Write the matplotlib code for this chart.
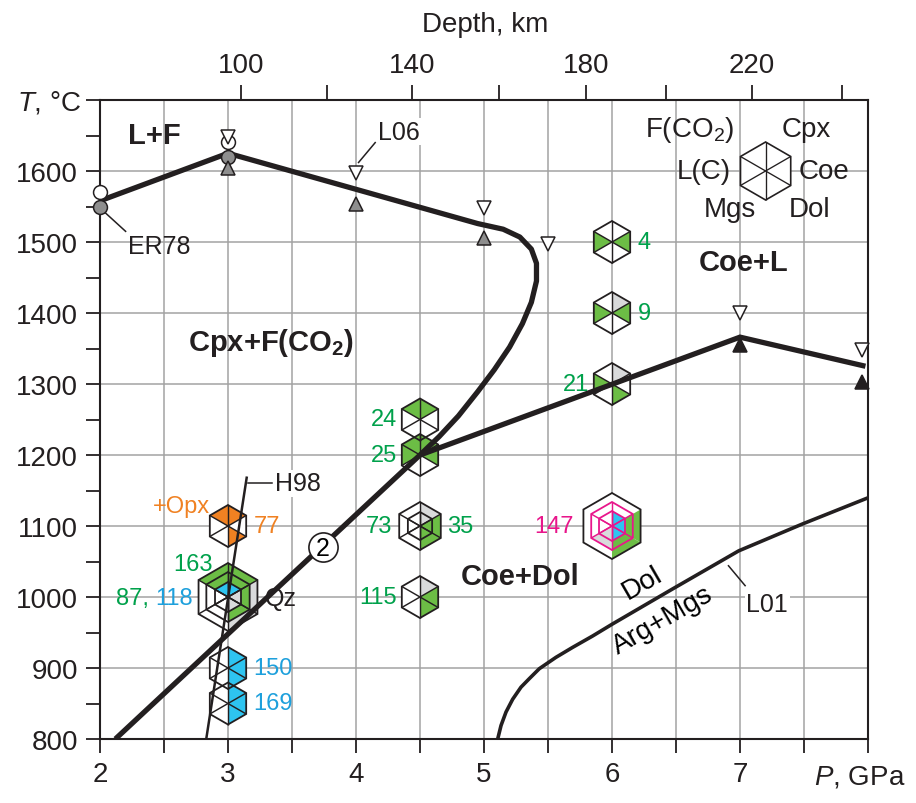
import numpy as np
import matplotlib
matplotlib.use('Agg')
import matplotlib.pyplot as plt
from matplotlib.patches import Polygon

plt.rcParams['font.family'] = ['Liberation Sans', 'DejaVu Sans']
plt.rcParams['mathtext.fontset'] = 'custom'
plt.rcParams['mathtext.rm'] = 'Liberation Sans'
plt.rcParams['mathtext.it'] = 'Liberation Sans:italic'
plt.rcParams['mathtext.bf'] = 'Liberation Sans:bold'

INK = '#231f20'
GRID = '#a3a3a3'
GREEN = '#6cbd45'
GREEN_TXT = '#00a14b'
BLUE = '#2ec4f0'
BLUE_TXT = '#1ea0dc'
ORANGE = '#f08122'
GRAY_FILL = '#d9dadb'
MARK_GRAY = '#8e8e8e'
MAGENTA = '#e8168b'
FILL = {'g': GREEN, 'b': BLUE, 'o': ORANGE, 's': GRAY_FILL}

# solidus / carbonate-out boundary (thick line)
solidus_P = [2.0, 3.0, 4.95, 5.15, 5.28, 5.37, 5.41, 5.41, 5.37, 5.3, 5.2,
             5.08, 4.95, 4.8, 4.65, 4.5, 2.12]
solidus_T = [1558, 1625, 1526, 1518, 1507, 1490, 1470, 1445, 1415, 1385, 1352,
             1320, 1289, 1255, 1226, 1200, 800]
# Coe+Dol / Coe+L boundary
melt_P = [4.5, 7.0, 7.98]
melt_T = [1200, 1366, 1325]
# H98 line
h98_P = [2.83, 3.146]
h98_T = [800, 1168]
# L01: Dol = Arg + Mgs
l01_P = [5.107, 5.133, 5.172, 5.224, 5.289, 5.354, 5.432, 5.562, 5.692,
         5.848, 6.004, 6.47, 6.99, 7.49, 7.99]
l01_T = [800, 819, 838, 856, 873, 885, 899, 915, 929, 945, 962, 1011, 1065,
         1103, 1139]

# bracketing experiments
open_tri_P = [3.0, 4.0, 5.0, 5.5, 7.0, 7.95]
open_tri_T = [1648, 1597, 1548, 1497, 1400, 1348]
gray_tri_P = [3.0, 4.0, 5.0]
gray_tri_T = [1604, 1553, 1505]
black_tri_P = [7.0, 7.95]
black_tri_T = [1355, 1303]
open_circ_P = [2.0, 3.0]
open_circ_T = [1570, 1641]
gray_circ_P = [2.0, 3.0]
gray_circ_T = [1550, 1620]

# runs: phase codes in order F(CO2), Cpx, L(C), Coe, Mgs, Dol
run_names = ['4', '9', '21', '24', '25', '115', '150', '169', '77']
run_P = [6.0, 6.0, 6.0, 4.5, 4.5, 4.5, 3.0, 3.0, 3.0]
run_T = [1500, 1400, 1300, 1250, 1200, 1000, 900, 850, 1100]
run_phases = ['..gg..', '.sgg..', '.sg..g', 'gg....', 'gggg..', '.s.g.g',
              '.b.b.b', '.b.b.b', 'oo...o']
run_side = ['right', 'right', 'left', 'left', 'left', 'left', 'right', 'right', 'right']
run_color = [GREEN_TXT] * 6 + [BLUE_TXT, BLUE_TXT, ORANGE]

SECTORS = ['F', 'Cpx', 'L', 'Coe', 'Mgs', 'Dol']
START = {'F': 90, 'L': 150, 'Mgs': 210, 'Dol': 270, 'Coe': 330, 'Cpx': 30}

fig = plt.figure(figsize=(9.16, 8.04), dpi=100)
ax = fig.add_axes([100 / 916, 64 / 804, 768 / 916, 639 / 804])
ax.set_xlim(2, 8)
ax.set_ylim(800, 1700)


def hexagon(P, T, r, code, edge=INK, lw=1.3, spokes=True, z=4, white=True):
    """Hexagon in pixel radius r; each sector filled by phase code."""
    cx, cy = ax.transData.transform((P, T))
    inv = ax.transData.inverted()

    def pt(a):
        a = np.radians(a)
        return inv.transform((cx + r * np.cos(a), cy + r * np.sin(a)))

    outline = [pt(a) for a in range(90, 450, 60)]
    if white:
        ax.add_patch(Polygon(outline, closed=True, facecolor='white',
                             edgecolor='none', zorder=z))
    for name, c in zip(SECTORS, code):
        if c == '.':
            continue
        a0 = START[name]
        ax.add_patch(Polygon([(P, T), pt(a0), pt(a0 + 60)], closed=True,
                             facecolor=FILL[c], edgecolor='none', zorder=z))
    if spokes:
        for a in (90, 150, 210):
            p0, p1 = pt(a), pt(a + 180)
            ax.plot([p0[0], p1[0]], [p0[1], p1[1]], color=edge, lw=lw * 0.8,
                    zorder=z + 0.1, solid_capstyle='butt')
    ax.add_patch(Polygon(outline, closed=True, fill=False, edgecolor=edge,
                         lw=lw, zorder=z + 0.2, joinstyle='miter'))


# grid
for p in np.arange(2.5, 8.0, 0.5):
    ax.axvline(p, color=GRID, lw=1.1, zorder=0)
for t in range(900, 1700, 100):
    ax.axhline(t, color=GRID, lw=1.1, zorder=0)

# boundaries
ax.plot(solidus_P, solidus_T, color=INK, lw=3.8, zorder=6,
        solid_joinstyle='round', solid_capstyle='butt')
ax.plot(melt_P, melt_T, color=INK, lw=3.8, zorder=6, solid_joinstyle='miter',
        solid_capstyle='butt')
ax.plot(h98_P, h98_T, color=INK, lw=1.8, zorder=6)
ax.plot(l01_P, l01_T, color=INK, lw=2.6, zorder=3, solid_joinstyle='round')

# hexagons
for name, P, T, code, side, col in zip(run_names, run_P, run_T, run_phases,
                                       run_side, run_color):
    hexagon(P, T, 21, code)
    dx = 0.2 if side == 'right' else -0.18
    ax.text(P + dx, T, name, color=col, fontsize=17,
            ha='left' if side == 'right' else 'right', va='center', zorder=7)

# nested runs 73 / 35
hexagon(4.5, 1100, 24, '.s.g.g')
hexagon(4.5, 1100, 14, '.s.g.g', white=False)
ax.text(4.28, 1100, '73', color=GREEN_TXT, fontsize=17, ha='right', va='center')
ax.text(4.71, 1100, '35', color=GREEN_TXT, fontsize=17, ha='left', va='center')

# nested runs 163 / 87 / 118
hexagon(3.0, 1000, 34, 'gg.s.s')
hexagon(3.0, 1000, 25, 'gg.g.g', white=False)
hexagon(3.0, 1000, 15, 'bb.s.s', white=False)
ax.text(2.88, 1046, '163', color=GREEN_TXT, fontsize=17, ha='right', va='center')
t118 = ax.text(2.725, 999, '118', color=BLUE_TXT, fontsize=17, ha='right',
               va='center')
ax.annotate('87, ', xy=(0, 0.5), xycoords=t118, color=GREEN_TXT, fontsize=17,
            ha='right', va='center')
ax.text(3.29, 999, 'Qz', color=INK, fontsize=18, ha='left', va='center', zorder=7)
ax.text(2.86, 1128, '+Opx', color=ORANGE, fontsize=17, ha='right', va='center')

# run 147
hexagon(6.0, 1100, 33, '...g.g', spokes=False)
hexagon(6.0, 1100, 24, '...gsg', edge=MAGENTA, white=False)
hexagon(6.0, 1100, 15, '.b.b.b', edge=MAGENTA, white=False)
ax.text(5.70, 1100, '147', color=MAGENTA, fontsize=17, ha='right', va='center')

# legend hexagon
hexagon(7.2, 1600, 29, '......', lw=1.2)
for s, P, T, ha in [('F(CO$_2$)', 6.61, 1659, 'center'), ('Cpx', 7.52, 1659, 'center'),
                    ('L(C)', 6.93, 1600, 'right'), ('Coe', 7.46, 1600, 'left'),
                    ('Mgs', 6.92, 1546, 'center'), ('Dol', 7.54, 1546, 'center')]:
    ax.text(P, T, s, fontsize=20, color=INK, ha=ha, va='center', zorder=7)

# markers
mk = dict(ls='none', ms=10, mec=INK, mew=1.1, zorder=8, clip_on=False)
ax.plot(open_circ_P, open_circ_T, 'o', mfc='white', **mk)
ax.plot(gray_circ_P, gray_circ_T, 'o', mfc=MARK_GRAY, **mk)
ax.plot(open_tri_P, open_tri_T, 'v', mfc='white', **mk)
ax.plot(gray_tri_P, gray_tri_T, '^', mfc=MARK_GRAY, **mk)
ax.plot(black_tri_P, black_tri_T, '^', mfc=INK, **mk)

# references
ax.plot([2.03, 2.2], [1543, 1515], color=INK, lw=1.1, zorder=7)
ax.text(2.22, 1494, 'ER78', fontsize=18, color=INK, ha='left', va='center')
ax.plot([4.02, 4.15], [1612, 1640], color=INK, lw=1.1, zorder=7)
ax.text(4.17, 1655, 'L06', fontsize=18, color=INK, ha='left', va='center',
        bbox=dict(fc='white', ec='none', pad=1))
ax.plot([3.16, 3.34], [1160, 1160], color=INK, lw=1.1, zorder=7)
ax.text(3.37, 1160, 'H98', fontsize=18, color=INK, ha='left', va='center',
        bbox=dict(fc='white', ec='none', pad=1))
ax.plot([6.91, 7.04], [1044, 1016], color=INK, lw=1.1, zorder=7)
ax.text(7.05, 990, 'L01', fontsize=18, color=INK, ha='left', va='center',
        bbox=dict(fc='white', ec='none', pad=1))

# curve 2 marker
ax.plot([3.74], [1070], 'o', ms=21, mfc='white', mec=INK, mew=1.2, zorder=8)
ax.text(3.74, 1069, '2', fontsize=18, ha='center', va='center', zorder=9)

# field labels
bold = dict(fontsize=21, fontweight='bold', color=INK, zorder=7)
ax.text(2.22, 1651, 'L+F', ha='left', va='center', **bold)
ax.text(2.69, 1359, 'Cpx+F(CO$_\\mathbf{2}$)', ha='left', va='center', **bold)
ax.text(7.03, 1472, 'Coe+L', ha='center', va='center', **bold)
ax.text(5.28, 1030, 'Coe+Dol', ha='center', va='center', **bold)
ax.text(6.24, 1020, 'Dol', fontsize=20, rotation=30, ha='center', va='center',
        rotation_mode='anchor')
ax.text(6.40, 968, 'Arg+Mgs', fontsize=20, rotation=30, ha='center', va='center',
        rotation_mode='anchor')

# axes styling
for s in ax.spines.values():
    s.set_linewidth(1.5)
    s.set_color(INK)
ax.set_xticks(np.arange(2, 8.01, 0.5))
ax.set_xticklabels(['2', '', '3', '', '4', '', '5', '', '6', '', '7', '', ''])
ax.set_yticks(np.arange(800, 1701, 50))
ax.set_yticklabels([str(t) if t % 100 == 0 and t < 1700 else '' for t in range(800, 1701, 50)])
ax.tick_params(direction='out', length=10, width=1.3, color=INK,
               labelsize=20, labelcolor=INK, pad=6)

# depth scale on top
depth_km = [100, 120, 140, 160, 180, 200, 220, 240]
depth_P = [3.10, 3.77, 4.44, 5.12, 5.80, 6.42, 7.09, 7.80]
top = ax.twiny()
top.set_xlim(ax.get_xlim())
top.set_xticks(depth_P)
top.set_xticklabels([str(d) if d % 40 == 20 else '' for d in depth_km])
top.tick_params(direction='out', length=11, width=1.3, color=INK,
                labelsize=20, labelcolor=INK, pad=5)
for s in top.spines.values():
    s.set_visible(False)

fig.text(17 / 916, 1 - 103 / 804, '$\\it{T}$, °C', fontsize=20, ha='left',
         va='center', color=INK)
fig.text(905 / 916, 1 - 778 / 804, '$\\it{P}$, GPa', fontsize=20, ha='right',
         va='center', color=INK)
fig.text(485 / 916, 1 - 25 / 804, 'Depth, km', fontsize=20, ha='center',
         va='center', color=INK)

fig.savefig('out.png', dpi=100)
